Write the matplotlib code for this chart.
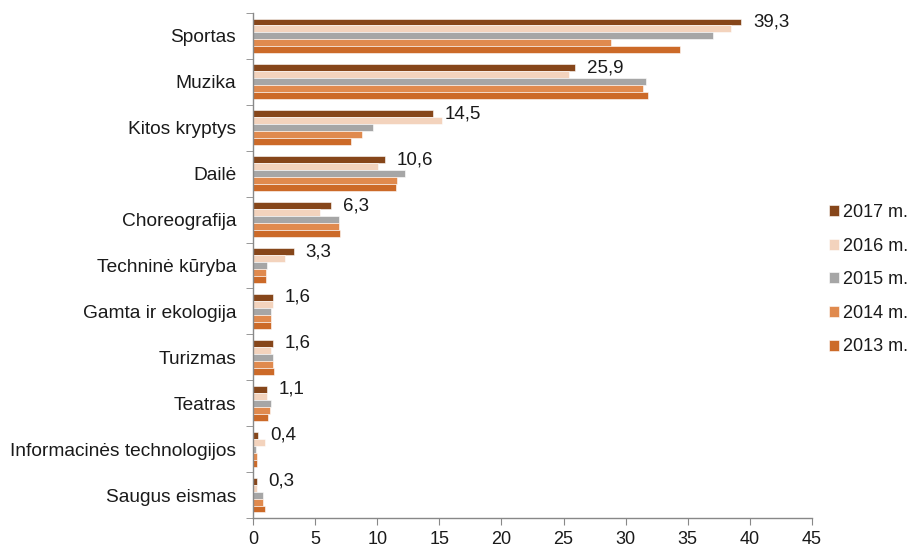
import matplotlib
matplotlib.use("Agg")
import matplotlib.pyplot as plt
import numpy as np

plt.rcParams['font.family'] = ['Liberation Sans', 'DejaVu Sans']

categories = ["Sportas", "Muzika", "Kitos kryptys", "Dailė", "Choreografija",
              "Techninė kūryba", "Gamta ir ekologija", "Turizmas", "Teatras",
              "Informacinės technologijos", "Saugus eismas"]
years = ["2017 m.", "2016 m.", "2015 m.", "2014 m.", "2013 m."]
v2017 = [39.3, 25.9, 14.5, 10.6, 6.3, 3.3, 1.6, 1.6, 1.1, 0.4, 0.3]
v2016 = [38.5, 25.4, 15.2, 10.1, 5.4, 2.6, 1.6, 1.45, 1.1, 0.95, 0.3]
v2015 = [37.0, 31.6, 9.7, 12.2, 6.9, 1.15, 1.45, 1.6, 1.45, 0.25, 0.8]
v2014 = [28.8, 31.4, 8.8, 11.6, 6.9, 1.05, 1.45, 1.6, 1.35, 0.3, 0.8]
v2013 = [34.4, 31.8, 7.9, 11.5, 7.0, 1.05, 1.45, 1.7, 1.2, 0.3, 0.95]
labels2017 = ["39,3", "25,9", "14,5", "10,6", "6,3", "3,3", "1,6", "1,6", "1,1", "0,4", "0,3"]
colors = ["#86461A", "#F3D3BD", "#A6A6A6", "#E08A4E", "#CC6A28"]

series = [v2017, v2016, v2015, v2014, v2013]

fig = plt.figure(figsize=(9.18, 5.47), dpi=100)
ax = fig.add_axes([253/918, 1-518/547, (812-253)/918, (518-13)/547])

n = len(categories)
y = np.arange(n)
h = 0.152
offsets = [-2*h, -h, 0, h, 2*h]
handles = []
for vals, c, lab, off in zip(series, colors, years, offsets):
    b = ax.barh(y + off, vals, height=h, color=c, edgecolor='white', linewidth=0.4, label=lab)
    handles.append(b)

for yi, v, t in zip(y, v2017, labels2017):
    ax.text(v + 0.95, yi - 2*h, t, va='center', ha='left', fontsize=13.5, color='#1a1a1a')

ax.set_ylim(n - 0.5, -0.5)
ax.set_xlim(0, 45)
ax.set_xticks(np.arange(0, 46, 5))
ax.set_yticks(y)
ax.set_yticklabels(categories, fontsize=13.8, color='#1a1a1a')
ax.set_yticks(np.arange(-0.5, n, 1), minor=True)
ax.tick_params(axis='y', which='major', length=0, pad=12)
ax.tick_params(axis='y', which='minor', length=5, color='#888888', direction='out')
ax.tick_params(axis='x', length=5, color='#888888', labelsize=13, pad=4, labelcolor='#1a1a1a')
for sp in ['top', 'right']:
    ax.spines[sp].set_visible(False)
for sp in ['left', 'bottom']:
    ax.spines[sp].set_color('#888888')
    ax.spines[sp].set_linewidth(1.0)

leg = fig.legend(handles=handles, labels=years, loc='upper left',
                 bbox_to_anchor=(820/918, 1-195/547), frameon=False,
                 fontsize=13, handlelength=0.55, handleheight=0.55,
                 handletextpad=0.2, labelspacing=0.92, borderpad=0)
for t in leg.get_texts():
    t.set_color('#1a1a1a')

fig.savefig("out.png", dpi=100)
